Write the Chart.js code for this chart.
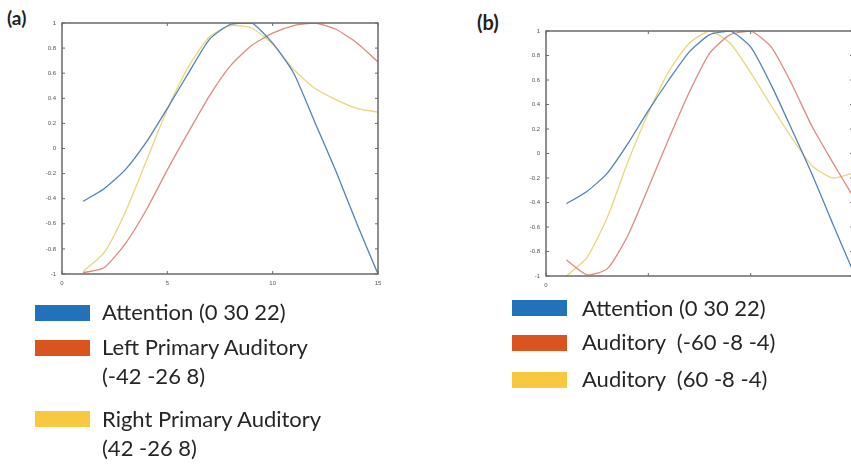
<!DOCTYPE html>
<html>
<head>
<meta charset="utf-8">
<script src="https://cdn.jsdelivr.net/npm/chart.js@4.4.1/dist/chart.umd.min.js"></script>
<style>
  body { margin: 0; width: 851px; height: 464px; overflow: hidden; background: #fff; position: relative; font-family: Lato, sans-serif; color: #262626; }
  canvas { position: absolute; }
  .panel-tag { position: absolute; font-weight: bold; color: #222; line-height: 1; }
  .swatch { position: absolute; width: 55px; height: 16px; }
  .legend-text { position: absolute; font-size: 22px; line-height: 29px; white-space: pre; }
</style>
</head>
<body>
<div class="panel-tag" style="left:7px; top:8px; font-size:19px;">(a)</div>
<div class="panel-tag" style="left:477px; top:12px; font-size:20px;">(b)</div>
<canvas id="chart-a" width="400" height="300" style="left:0; top:0;"></canvas>
<canvas id="chart-b" width="420" height="300" style="left:480px; top:0;"></canvas>
<div id="legend-a"></div>
<div id="legend-b"></div>
<script>
// time points (x axis)
const timePoints = [1, 2, 3, 4, 5, 6, 7, 8, 9, 10, 11, 12, 13, 14, 15];

// panel (a)
const attentionA = [-0.42, -0.32, -0.17, 0.05, 0.32, 0.60, 0.87, 0.99, 1.0, 0.84, 0.60, 0.21, -0.18, -0.60, -1.0];
const leftAuditoryA = [-0.99, -0.95, -0.76, -0.49, -0.17, 0.13, 0.42, 0.66, 0.82, 0.92, 0.98, 1.0, 0.95, 0.84, 0.69];
const rightAuditoryA = [-0.98, -0.83, -0.51, -0.10, 0.31, 0.65, 0.89, 0.98, 0.96, 0.83, 0.63, 0.48, 0.39, 0.32, 0.29];

// panel (b)
const attentionB = [-0.41, -0.31, -0.16, 0.08, 0.35, 0.60, 0.83, 0.97, 1.0, 0.87, 0.56, 0.20, -0.17, -0.57, -0.96];
const auditoryLeftB = [-0.87, -0.99, -0.94, -0.67, -0.28, 0.12, 0.50, 0.82, 0.97, 1.0, 0.87, 0.57, 0.22, -0.07, -0.35];
const auditoryRightB = [-1.0, -0.85, -0.52, -0.07, 0.33, 0.67, 0.90, 1.0, 0.90, 0.66, 0.39, 0.13, -0.10, -0.20, -0.16];

const yTicks = [-1, -0.8, -0.6, -0.4, -0.2, 0, 0.2, 0.4, 0.6, 0.8, 1];
const xTicks = [0, 5, 10, 15];

const legendA = ['Attention (0 30 22)', 'Left Primary Auditory\n(-42 -26 8)', 'Right Primary Auditory\n(42 -26 8)'];
const legendB = ['Attention (0 30 22)', 'Auditory  (-60 -8 -4)', 'Auditory  (60 -8 -4)'];

const lineColors = ['#5283b5', '#d98c82', '#e9d67e'];
const swatchColors = ['#2172b8', '#d9541f', '#f8c840'];

// MATLAB-style box with inward ticks
const boxTicks = {
    id: 'boxTicks',
    afterDatasetsDraw(chart) {
        const { ctx, chartArea: a, scales } = chart;
        ctx.save();
        ctx.strokeStyle = '#6a6a6a';
        ctx.lineWidth = 1.5;
        ctx.strokeRect(a.left, a.top, a.right - a.left, a.bottom - a.top);
        ctx.lineWidth = 1;
        ctx.beginPath();
        scales.x.ticks.forEach(t => {
            const px = scales.x.getPixelForValue(t.value);
            ctx.moveTo(px, a.bottom); ctx.lineTo(px, a.bottom - 3);
            ctx.moveTo(px, a.top); ctx.lineTo(px, a.top + 3);
        });
        scales.y.ticks.forEach(t => {
            const py = scales.y.getPixelForValue(t.value);
            ctx.moveTo(a.left, py); ctx.lineTo(a.left + 3, py);
            ctx.moveTo(a.right, py); ctx.lineTo(a.right - 3, py);
        });
        ctx.stroke();
        ctx.restore();
    }
};

function makeChart(id, series, opts) {
    const datasets = series.map((values, i) => ({
        data: timePoints.map((t, j) => ({ x: t, y: values[j] })),
        borderColor: lineColors[i],
        borderWidth: 1.3,
        pointRadius: 0,
        tension: 0.2,
        fill: false
    }));
    return new Chart(document.getElementById(id), {
        type: 'line',
        data: { datasets },
        options: {
            responsive: false,
            animation: false,
            layout: { padding: { top: opts.top, right: opts.right, left: 0, bottom: 0 } },
            plugins: { legend: { display: false }, tooltip: { enabled: false } },
            scales: {
                x: {
                    type: 'linear',
                    min: 0,
                    max: 15,
                    afterBuildTicks: s => { s.ticks = xTicks.map(v => ({ value: v })); },
                    afterFit: s => { s.height = opts.xHeight; },
                    grid: { display: false, drawTicks: false },
                    border: { display: false },
                    ticks: {
                        padding: 6,
                        color: '#555',
                        font: { size: 6, family: 'Liberation Sans' },
                        callback: v => opts.xLabels(v)
                    }
                },
                y: {
                    min: -1,
                    max: 1,
                    afterBuildTicks: s => { s.ticks = yTicks.map(v => ({ value: v })); },
                    afterFit: s => { s.width = opts.yWidth; },
                    grid: { display: false, drawTicks: false },
                    border: { display: false },
                    ticks: {
                        padding: 6,
                        color: '#555',
                        font: { size: 6, family: 'Liberation Sans' },
                        callback: v => String(Number(v.toFixed(1)))
                    }
                }
            }
        },
        plugins: [boxTicks]
    });
}

function makeLegend(id, labels, swatchLeft, textLeft, tops, swatchTops) {
    const box = document.getElementById(id);
    labels.forEach((label, i) => {
        const sw = document.createElement('div');
        sw.className = 'swatch';
        sw.style.left = swatchLeft + 'px';
        sw.style.top = swatchTops[i] + 'px';
        sw.style.background = swatchColors[i];
        box.appendChild(sw);
        const tx = document.createElement('div');
        tx.className = 'legend-text';
        tx.style.left = textLeft + 'px';
        tx.style.top = tops[i] + 'px';
        tx.textContent = label;
        box.appendChild(tx);
    });
}

window.addEventListener('load', function() {
    makeChart('chart-a', [attentionA, leftAuditoryA, rightAuditoryA],
        { top: 23, right: 22, yWidth: 62, xHeight: 26, xLabels: v => String(v) });
    makeChart('chart-b', [attentionB, auditoryLeftB, auditoryRightB],
        { top: 31, right: 47, yWidth: 66, xHeight: 24, xLabels: v => (v === 0 ? '0' : '') });
    makeLegend('legend-a', legendA, 35, 102, [297, 332, 404], [305, 340, 411]);
    makeLegend('legend-b', legendB, 512, 582, [293, 327, 364], [300, 335, 372]);
});
</script>
</body>
</html>
